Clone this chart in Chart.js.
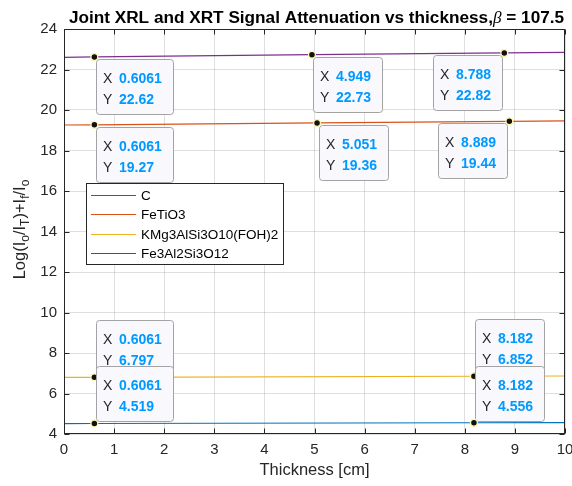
<!DOCTYPE html>
<html>
<head>
<meta charset="utf-8">
<title>Joint XRL and XRT Signal Attenuation</title>
<script src="https://cdn.jsdelivr.net/npm/chart.js@4.4.1/dist/chart.umd.min.js"></script>
<style>
  html, body { margin: 0; padding: 0; background: #fff; }
  #wrap { width: 572px; height: 486px; position: relative; }
</style>
</head>
<body>
<div id="wrap"><canvas id="chart"></canvas></div>
<script>
const seriesNames = ["C", "FeTiO3", "KMg3AlSi3O10(FOH)2", "Fe3Al2Si3O12"];
const seriesColors = ["#0072bd", "#d95319", "#edb120", "#7e2f8e"];

// thickness [cm] and combined signal for each mineral
const thicknessC = [0, 0.6061, 8.182, 10];
const signalC = [4.515, 4.519, 4.556, 4.561];

const thicknessFeTiO3 = [0, 0.6061, 5.051, 8.889, 10];
const signalFeTiO3 = [19.26, 19.27, 19.36, 19.44, 19.46];

const thicknessKMg = [0, 0.6061, 8.182, 10];
const signalKMg = [6.792, 6.797, 6.852, 6.864];

const thicknessFe3Al = [0, 0.6061, 4.949, 8.788, 10];
const signalFe3Al = [22.6, 22.62, 22.73, 22.82, 22.85];

const xTicks = [0, 1, 2, 3, 4, 5, 6, 7, 8, 9, 10];
const yTicks = [4, 6, 8, 10, 12, 14, 16, 18, 20, 22, 24];

// data tips: series index, sample index inside that series, box side
const tipSeries = [3, 3, 3, 1, 1, 1, 2, 2, 0, 0];
const tipSample = [1, 2, 3, 1, 2, 3, 1, 2, 1, 2];
const tipSide = ["br", "br", "bl", "br", "br", "bl", "tr", "tr", "tr", "tr"];

const FONT = "'Liberation Sans', Arial, Helvetica, sans-serif";
const AXIS_COLOR = "#262626";

const xs = [thicknessC, thicknessFeTiO3, thicknessKMg, thicknessFe3Al];
const ys = [signalC, signalFeTiO3, signalKMg, signalFe3Al];

const datasets = seriesNames.map((name, i) => ({
  label: name,
  data: xs[i].map((x, k) => ({ x: x, y: ys[i][k] })),
  borderColor: seriesColors[i],
  borderWidth: 1.2,
  pointRadius: 0,
  tension: 0,
}));

function fixScale(scale, size) {
  if (scale.isHorizontal()) scale.height = size;
  else scale.width = size;
  scale.paddingLeft = 0;
  scale.paddingRight = 0;
  scale.paddingTop = 0;
  scale.paddingBottom = 0;
}

function drawTip(ctx, px, py, xText, yText, side) {
  ctx.font = "bold 14px " + FONT;
  const valW = Math.max(ctx.measureText(xText).width, ctx.measureText(yText).width);
  const w = Math.round(23 + valW + 11);
  const h = 55;
  const left = Math.round(side[1] === "l" ? px - 2 - w : px + 1.5);
  const top = Math.round(side[0] === "t" ? py - 2 - h : py + 2);

  ctx.save();
  ctx.beginPath();
  ctx.roundRect(left + 0.5, top + 0.5, w, h, 3);
  ctx.fillStyle = "#f8f8fd";
  ctx.fill();
  ctx.strokeStyle = "#a3a3a3";
  ctx.lineWidth = 1;
  ctx.stroke();

  ctx.textBaseline = "alphabetic";
  ctx.textAlign = "left";
  ctx.font = "14px " + FONT;
  ctx.fillStyle = AXIS_COLOR;
  ctx.fillText("X", left + 7, top + 23.5);
  ctx.fillText("Y", left + 7, top + 45);
  ctx.font = "bold 14px " + FONT;
  ctx.fillStyle = "#0099ff";
  ctx.fillText(xText, left + 23, top + 23.5);
  ctx.fillText(yText, left + 23, top + 45);

  // marker
  ctx.beginPath();
  ctx.arc(px, py, 3.4, 0, Math.PI * 2);
  ctx.fillStyle = "#111";
  ctx.fill();
  ctx.strokeStyle = "#fff6b0";
  ctx.lineWidth = 1.3;
  ctx.stroke();
  ctx.restore();
}

const decorPlugin = {
  id: "decor",
  afterDraw(chart) {
    const ctx = chart.ctx;
    const area = chart.chartArea;
    const sx = chart.scales.x;
    const sy = chart.scales.y;

    // axes box with inward ticks
    ctx.save();
    ctx.strokeStyle = AXIS_COLOR;
    ctx.lineWidth = 1;
    const L = Math.round(area.left) + 0.5;
    const R = Math.round(area.right) - 0.5;
    const T = Math.round(area.top) + 0.5;
    const B = Math.round(area.bottom) - 0.5;
    ctx.strokeRect(L, T, R - L, B - T);
    ctx.beginPath();
    xTicks.forEach((v) => {
      const p = Math.round(sx.getPixelForValue(v)) + 0.5;
      ctx.moveTo(p, B); ctx.lineTo(p, B - 5);
      ctx.moveTo(p, T); ctx.lineTo(p, T + 5);
    });
    yTicks.forEach((v) => {
      const p = Math.round(sy.getPixelForValue(v)) + 0.5;
      ctx.moveTo(L, p); ctx.lineTo(L + 5, p);
      ctx.moveTo(R, p); ctx.lineTo(R - 5, p);
    });
    ctx.stroke();
    ctx.restore();

    // legend
    ctx.save();
    ctx.font = "13.5px " + FONT;
    let textW = 0;
    seriesNames.forEach((n) => { textW = Math.max(textW, ctx.measureText(n).width); });
    const lgLeft = 86, lgTop = 183, rowH = 19.4;
    const lgW = Math.round(55 + textW + 5);
    const lgH = 81;
    ctx.fillStyle = "#fff";
    ctx.fillRect(lgLeft, lgTop, lgW, lgH);
    ctx.strokeStyle = AXIS_COLOR;
    ctx.lineWidth = 1;
    ctx.strokeRect(lgLeft + 0.5, lgTop + 0.5, lgW, lgH);
    chart.data.datasets.forEach((ds, i) => {
      const cy = lgTop + 12 + i * rowH;
      ctx.beginPath();
      ctx.moveTo(lgLeft + 5, Math.round(cy) + 0.5);
      ctx.lineTo(lgLeft + 50, Math.round(cy) + 0.5);
      ctx.strokeStyle = ds.borderColor;
      ctx.lineWidth = 1.2;
      ctx.stroke();
      ctx.fillStyle = "#000";
      ctx.textBaseline = "alphabetic";
      ctx.fillText(ds.label, lgLeft + 55, cy + 5);
    });
    ctx.restore();

    // data tips
    tipSeries.forEach((s, i) => {
      const pt = chart.data.datasets[s].data[tipSample[i]];
      const px = sx.getPixelForValue(pt.x);
      const py = sy.getPixelForValue(pt.y);
      drawTip(ctx, px, py, pt.x.toPrecision(4), pt.y.toPrecision(4), tipSide[i]);
    });

    // title
    ctx.save();
    ctx.fillStyle = "#000";
    ctx.textBaseline = "alphabetic";
    const parts = [
      ["Joint XRL and XRT Signal Attenuation vs thickness,", "bold 17.2px " + FONT],
      ["\u03b2", "italic 17.2px 'Liberation Serif', 'Times New Roman', serif"],
      [" = 107.5", "bold 17.2px " + FONT],
    ];
    let total = 0;
    parts.forEach((p) => { ctx.font = p[1]; total += ctx.measureText(p[0]).width; });
    let x = (area.left + area.right) / 2 + 2 - total / 2;
    parts.forEach((p) => {
      ctx.font = p[1];
      ctx.fillText(p[0], x, 22.5);
      x += ctx.measureText(p[0]).width;
    });

    // x axis title
    ctx.font = "16.5px " + FONT;
    ctx.fillStyle = AXIS_COLOR;
    ctx.textAlign = "center";
    ctx.fillText("Thickness [cm]", (area.left + area.right) / 2, 475);

    // y axis title with subscripts
    const main = "16.5px " + FONT;
    const sub = "12px " + FONT;
    const label = [
      ["Log(I", main, 0], ["o", sub, 4], ["/I", main, 0], ["T", sub, 4],
      [")+I", main, 0], ["f", sub, 4], ["/I", main, 0], ["o", sub, 4],
    ];
    ctx.textAlign = "left";
    let len = 0;
    label.forEach((p) => { ctx.font = p[1]; len += ctx.measureText(p[0]).width; });
    ctx.translate(24.5, (area.top + area.bottom) / 2 - 2);
    ctx.rotate(-Math.PI / 2);
    let lx = -len / 2;
    label.forEach((p) => {
      ctx.font = p[1];
      ctx.fillText(p[0], lx, p[2]);
      lx += ctx.measureText(p[0]).width;
    });
    ctx.restore();
  },
};

new Chart(document.getElementById("chart"), {
  type: "line",
  data: { datasets },
  options: {
    responsive: true,
    maintainAspectRatio: false,
    animation: false,
    events: [],
    layout: { padding: { top: 29, right: 7, left: 0, bottom: 0 } },
    scales: {
      x: {
        type: "linear",
        min: xTicks[0],
        max: xTicks[xTicks.length - 1],
        afterBuildTicks: (s) => { s.ticks = xTicks.map((v) => ({ value: v })); },
        afterFit: (s) => fixScale(s, 52),
        grid: { color: "rgba(38,38,38,0.15)", drawTicks: false },
        border: { display: false },
        ticks: {
          padding: 7,
          color: AXIS_COLOR,
          font: { family: FONT, size: 15 },
          maxRotation: 0,
          autoSkip: false,
        },
      },
      y: {
        type: "linear",
        min: yTicks[0],
        max: yTicks[yTicks.length - 1],
        afterBuildTicks: (s) => { s.ticks = yTicks.map((v) => ({ value: v })); },
        afterFit: (s) => fixScale(s, 64),
        grid: { color: "rgba(38,38,38,0.15)", drawTicks: false },
        border: { display: false },
        ticks: {
          padding: 7,
          color: AXIS_COLOR,
          font: { family: FONT, size: 15 },
          autoSkip: false,
        },
      },
    },
    plugins: {
      legend: { display: false },
      tooltip: { enabled: false },
      title: { display: false },
    },
  },
  plugins: [decorPlugin],
});
</script>
</body>
</html>
